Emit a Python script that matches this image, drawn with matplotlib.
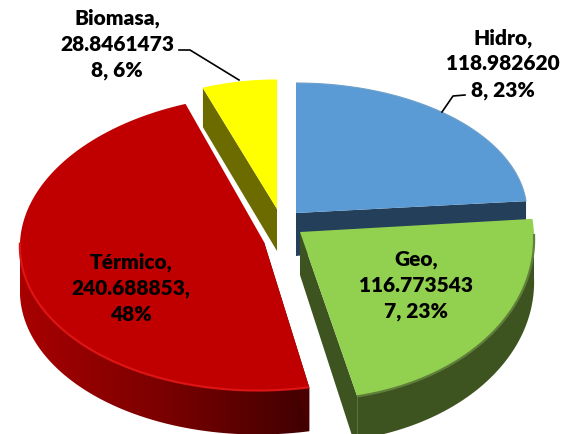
#!/usr/bin/env python3
# coding: utf-8

import numpy as np
import matplotlib
matplotlib.use('Agg')
import matplotlib.pyplot as plt
from matplotlib.colors import LinearSegmentedColormap
from matplotlib.patches import Polygon

# data
names = ['Hidro', 'Geo', 'Térmico', 'Biomasa']
values = [118.9826208, 116.7735437, 240.688853, 28.84614738]
labels = ['Hidro,\n118.982620\n8, 23%', 'Geo,\n116.773543\n7, 23%',
          'Térmico,\n240.688853,\n48%', 'Biomasa,\n28.8461473\n8, 6%']

# look of each slice, in pixels: apex, ellipse centre, radii, shear, depth
apex = {'Hidro': (296, 214), 'Geo': (300, 233), 'Térmico': (264, 243), 'Biomasa': (277, 210)}
centre = {'Hidro': (296, 214), 'Geo': (302, 235), 'Térmico': (265, 243.5), 'Biomasa': (277, 210)}
radii = {'Hidro': (231, 130), 'Geo': (232, 166), 'Térmico': (245, 148), 'Biomasa': (211, 129)}
shear = {'Hidro': 0, 'Geo': -7, 'Térmico': 7, 'Biomasa': 0}
depth = {'Hidro': 43, 'Geo': 43, 'Térmico': 44, 'Biomasa': 42}
top_colors = {'Hidro': '#5b9bd5', 'Geo': '#92d050', 'Térmico': '#c00000', 'Biomasa': '#ffff00'}
side_colors = {'Hidro': '#243f5a', 'Geo': '#3e5420', 'Térmico': '#4a0000', 'Biomasa': '#6b6b00'}
edge_colors = {'Hidro': '#6f9fc9', 'Geo': '#5f7f3a', 'Térmico': '#dc1414', 'Biomasa': '#ffff00'}
label_pos = {'Hidro': (503, 64), 'Geo': (416, 285.5), 'Térmico': (131, 288.5), 'Biomasa': (117, 44.5)}

red_wall = LinearSegmentedColormap.from_list('wall', ['#a80000', '#7a0000', '#400000'])

fig = plt.figure(figsize=(5.64, 4.35), dpi=100)
ax = fig.add_axes([0, 0, 1, 1])
ax.axis('off')


def arc(name, t1, t2):
    t = np.radians(np.linspace(t1, t2, 200))
    cx, cy = centre[name]
    rx, ry = radii[name]
    return cx + rx * np.cos(t) + shear[name] * np.sin(t), cy - ry * np.sin(t)


# angles go clockwise from 12 o'clock
angles = {}
start = 90.0
for name, v in zip(names, values):
    sweep = v / sum(values) * 360
    angles[name] = (start, start - sweep)
    start -= sweep


def draw_slice(name):
    t1, t2 = angles[name]
    x, y = arc(name, t1, t2)
    ax0, ay0 = apex[name]
    d = depth[name]

    # cut faces
    if name == 'Hidro':
        ax.fill([ax0, x[-1], x[-1], ax0], [ay0, y[-1], y[-1] + 31, ay0 + d],
                color=side_colors[name], lw=0)
    elif name == 'Biomasa':
        ax.fill([x[0], ax0, ax0, x[0]], [y[0], ay0, ay0 + d, y[0] + 39],
                color=side_colors[name], lw=0)
    elif name == 'Geo':
        ax.fill([ax0, x[-1], x[-1], x[-1] - 4, ax0],
                [ay0, y[-1], y[-1] + d, y[-1] + d, ay0 + d],
                color=side_colors[name], lw=0)
    else:
        ax.fill([ax0, x[0], x[0], ax0], [ay0, y[0], y[0] + d, ay0 + d],
                color=side_colors[name], lw=0)

    # outer wall, only where the rim faces the viewer
    if name == 'Térmico':
        xw, yw = arc(name, t1, -180)
        poly = Polygon(np.c_[np.r_[xw, xw[::-1]], np.r_[yw, yw[::-1] + d]],
                       transform=ax.transData, fc='none', lw=0)
        ax.add_patch(poly)
        grad = np.linspace(0, 1, 256).reshape(1, -1)
        im = ax.imshow(grad, cmap=red_wall, aspect='auto', interpolation='bilinear',
                       extent=(xw.min(), xw.max(), 435, 200))
        im.set_clip_path(poly)
    elif name == 'Geo':
        xw, yw = arc(name, 0, t2)
        ax.fill(np.r_[xw, xw[::-1]], np.r_[yw, yw[::-1] + d], color=side_colors[name], lw=0)

    # top
    ax.fill(np.r_[ax0, x], np.r_[ay0, y], color=top_colors[name], lw=0)
    if name in ('Térmico', 'Geo'):
        xe, ye = arc(name, 0 if name == 'Geo' else t1, t2 if name == 'Geo' else -180)
        ax.plot(xe, ye, color=edge_colors[name], lw=1.6, solid_capstyle='butt')
    else:
        ax.plot(x, y, color=edge_colors[name], lw=0.8, solid_capstyle='butt')


for name in ['Biomasa', 'Hidro', 'Térmico', 'Geo']:
    draw_slice(name)

# leader lines
ax.plot([179, 190, 239], [51, 51, 81], color='black', lw=1.2)
ax.plot([465, 453, 442], [96, 97, 113], color='black', lw=1.2)

for name, text in zip(names, labels):
    lx, ly = label_pos[name]
    ax.text(lx, ly, text, ha='center', va='center', fontsize=15, fontweight='heavy',
            family='Lato', linespacing=1.41, color='black')

ax.set_xlim(0, 564)
ax.set_ylim(435, 0)

fig.savefig('out.png', dpi=100)
